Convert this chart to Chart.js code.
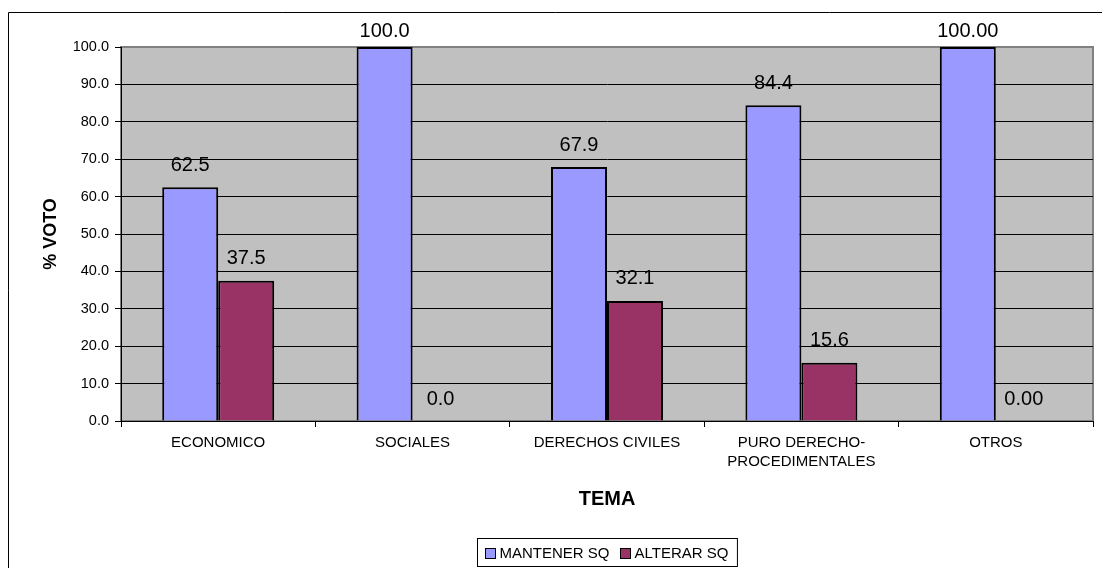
<!DOCTYPE html>
<html>
<head>
<meta charset="utf-8">
<title>% VOTO por TEMA</title>
<script src="https://cdn.jsdelivr.net/npm/chart.js@4.4.1/dist/chart.umd.min.js"></script>
<style>
  html, body { margin: 0; padding: 0; background: #ffffff; }
  #wrap { width: 1102px; height: 568px; }
</style>
</head>
<body>
<div id="wrap"><canvas id="c" width="1102" height="568"></canvas></div>
<script>
// Categories (themes) and the two vote series, in percent
const categories = ['ECONOMICO', 'SOCIALES', 'DERECHOS CIVILES', ['PURO DERECHO-', 'PROCEDIMENTALES'], 'OTROS'];
const mantenerSQ = [62.5, 100.0, 67.9, 84.4, 100.0];
const alterarSQ  = [37.5, 0.0, 32.1, 15.6, 0.0];
// Value labels as printed above each bar
const mantenerLabels = ['62.5', '100.0', '67.9', '84.4', '100.00'];
const alterarLabels  = ['37.5', '0.0', '32.1', '15.6', '0.00'];
// Y axis ticks
const yMin = 0, yMax = 100, yStep = 10;
const seriesNames = ['MANTENER SQ', 'ALTERAR SQ'];
const yTitle = '% VOTO';
const xTitle = 'TEMA';

const FONT = "'Liberation Sans', Arial, sans-serif";
const BLUE = '#9999FF';
const MAROON = '#993366';

// Gray plot background with a soft frame, plus the outer chart frame
const plotBackground = {
  id: 'plotBackground',
  beforeDraw(chart) {
    const { ctx, chartArea: a } = chart;
    ctx.save();
    ctx.strokeStyle = '#000000';
    ctx.lineWidth = 1;
    ctx.beginPath();
    ctx.moveTo(8.5, chart.height + 2);
    ctx.lineTo(8.5, 12.5);
    ctx.lineTo(chart.width + 2, 12.5);
    ctx.stroke();
    ctx.fillStyle = '#C0C0C0';
    ctx.fillRect(a.left, a.top, a.right - a.left, a.bottom - a.top);
    ctx.strokeStyle = '#808080';
    ctx.lineWidth = 2;
    ctx.strokeRect(a.left, a.top, a.right - a.left, a.bottom - a.top);
    ctx.restore();
  }
};

// Value labels above bars, axis titles and the boxed legend
const annotations = {
  id: 'annotations',
  afterDraw(chart) {
    const { ctx, chartArea: a } = chart;
    ctx.save();
    ctx.fillStyle = '#000000';
    ctx.textAlign = 'center';
    ctx.textBaseline = 'middle';
    ctx.font = '20px ' + FONT;
    const labelSets = [mantenerLabels, alterarLabels];
    chart.data.datasets.forEach((ds, di) => {
      const meta = chart.getDatasetMeta(di);
      meta.data.forEach((bar, i) => {
        const y = Math.max(bar.y - 22, 31);
        ctx.fillText(labelSets[di][i], bar.x, y);
      });
    });

    // Y axis title
    ctx.font = 'bold 18px ' + FONT;
    ctx.save();
    ctx.translate(51, (a.top + a.bottom) / 2);
    ctx.rotate(-Math.PI / 2);
    ctx.fillText(yTitle, 0, 0);
    ctx.restore();

    // X axis title
    ctx.font = 'bold 20px ' + FONT;
    ctx.fillText(xTitle, (a.left + a.right) / 2, 499);

    // Legend
    ctx.font = '15px ' + FONT;
    ctx.textAlign = 'left';
    const gap = 10, sw = 10, textGap = 5;
    const widths = seriesNames.map(n => ctx.measureText(n).width);
    const inner = widths.reduce((s, w) => s + sw + textGap + w, 0) + gap * (seriesNames.length - 1);
    const boxW = inner + 16, boxH = 28;
    const boxX = Math.round((a.left + a.right) / 2 - boxW / 2) + 0.5;
    const boxY = 538.5;
    ctx.strokeStyle = '#000000';
    ctx.lineWidth = 1;
    ctx.fillStyle = '#ffffff';
    ctx.fillRect(boxX, boxY, boxW, boxH);
    ctx.strokeRect(boxX, boxY, boxW, boxH);
    let x = boxX + 7;
    const cy = boxY + boxH / 2;
    chart.data.datasets.forEach((ds, di) => {
      ctx.fillStyle = ds.backgroundColor;
      ctx.fillRect(Math.round(x) + 0.5, Math.round(cy - sw / 2) + 0.5, sw, sw);
      ctx.strokeRect(Math.round(x) + 0.5, Math.round(cy - sw / 2) + 0.5, sw, sw);
      ctx.fillStyle = '#000000';
      ctx.fillText(seriesNames[di], x + sw + textGap, cy + 1);
      x += sw + textGap + widths[di] + gap;
    });
    ctx.restore();
  }
};

new Chart(document.getElementById('c'), {
  type: 'bar',
  data: {
    labels: categories,
    datasets: [
      {
        label: seriesNames[0],
        data: mantenerSQ,
        backgroundColor: BLUE,
        borderColor: '#000000',
        borderWidth: 2,
        borderSkipped: 'start'
      },
      {
        label: seriesNames[1],
        data: alterarSQ,
        backgroundColor: MAROON,
        borderColor: '#000000',
        borderWidth: 2,
        borderSkipped: 'start'
      }
    ]
  },
  options: {
    responsive: false,
    devicePixelRatio: 1,
    animation: false,
    events: [],
    layout: { padding: { top: 47, right: 9, left: 0, bottom: 0 } },
    datasets: { bar: { categoryPercentage: 0.576, barPercentage: 1.0 } },
    plugins: {
      legend: { display: false },
      title: { display: false },
      tooltip: { enabled: false }
    },
    scales: {
      x: {
        offset: true,
        grid: {
          offset: true,
          drawOnChartArea: false,
          drawTicks: true,
          tickLength: 6,
          color: '#000000'
        },
        border: { display: true, color: '#000000', width: 1 },
        ticks: {
          color: '#000000',
          padding: 6,
          maxRotation: 0,
          autoSkip: false,
          font: { family: FONT, size: 15, lineHeight: 1.3 }
        },
        afterFit(scale) { scale.height = 147; }
      },
      y: {
        min: yMin,
        max: yMax,
        grid: {
          color: (c) => (c.tick && c.tick.value === yMax ? 'rgba(0,0,0,0)' : '#000000'),
          tickColor: '#000000',
          drawTicks: true,
          tickLength: 6,
          lineWidth: 1
        },
        border: { display: true, color: '#000000', width: 1 },
        ticks: {
          stepSize: yStep,
          color: '#000000',
          padding: 6,
          font: { family: FONT, size: 14.5 },
          callback: (v) => Number(v).toFixed(1)
        },
        afterFit(scale) { scale.width = 121; }
      }
    }
  },
  plugins: [plotBackground, annotations]
});
</script>
</body>
</html>
